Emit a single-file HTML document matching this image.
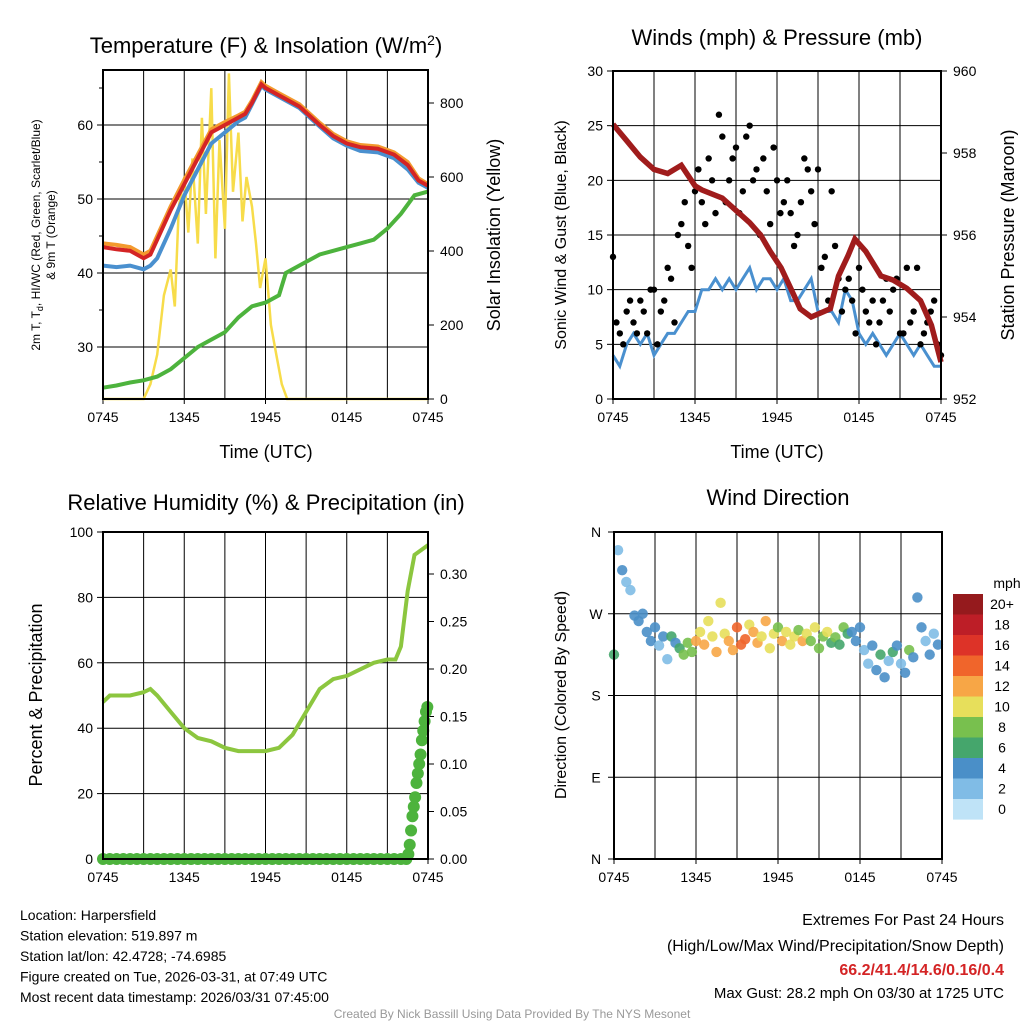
<!DOCTYPE html>
<html><head><meta charset="utf-8"><style>
body{margin:0;background:#fff;}
svg{display:block;font-family:"Liberation Sans",sans-serif;}
</style></head><body>
<svg id="c" width="1024" height="1024" viewBox="0 0 1024 1024"></svg>
<script>
// ---------- data ----------
const timeTicks=["0745","1345","1945","0145","0745"];
const tempH=[0,1,2,3,3.5,4,5,6,7,8,9,10,10.5,11,11.7,12,13,14.5,16,17,18,19,20.3,21.5,22.5,23.3,24];
const tempV=[43.5,43.2,43,42,42.5,44.5,48.5,52,55.5,59,60,61,61.5,63,65.5,65,64,62.5,60,58.5,57.5,57,56.8,56,54.6,52.5,51.8];
const wcV=[41,40.8,41,40.5,41,42,46,50.5,54,57.5,59,60.5,61,62.8,65.3,64.8,63.8,62.3,59.8,58.2,57.2,56.5,56.3,55.5,54,52.2,51.5];
const orgV=[44,43.8,43.5,42.5,43,45,49,52.6,56,59.4,60.4,61.3,61.8,63.3,65.8,65.3,64.3,62.8,60.3,58.8,57.8,57.3,57.1,56.3,55,52.8,52];
const dewH=[0,1,2,3,4,5,6,7,8,9,10,11,12,13,13.5,14,15,16,17,18,19,20,21,22,23,24];
const dewV=[24.5,24.8,25.2,25.5,26,27,28.5,30,31,32,34,35.5,36,37,40,40.5,41.5,42.5,43,43.5,44,44.5,46,48,50.5,51];
const solH=[0,3,3.5,4,4.5,5,5.3,5.6,6,6.3,6.6,7,7.3,7.6,8,8.3,8.6,9,9.3,9.6,10,10.3,10.6,11,11.3,11.6,12,12.4,12.8,13.2,13.6,24];
const solV=[0,0,40,120,280,350,250,520,600,450,650,420,760,500,840,380,700,460,880,560,720,480,600,520,420,300,380,200,120,40,0,0];
const windT=[4,3,5,6,5,6,4,5,6,6,7,8,8,10,10,11,10,11,10,11,12,10,11,11,10,11,9,9,10,11,8,8,8,7,10,9,6,5,6,5,4,5,6,5,4,5,4,3,3];
const gustA=[13,6,8,7,9,6,10,8,12,7,16,14,19,18,22,17,24,20,23,19,25,21,22,16,20,18,17,15,22,19,21,13,19,11,10,9,12,8,9,7,11,10,6,12,8,5,7,9,4];
const gustB=[7,5,9,6,8,10,5,9,11,15,18,12,21,16,20,26,18,22,17,24,20,15,19,23,17,20,14,18,21,16,12,9,14,8,11,6,10,7,5,9,8,11,6,7,12,6,8,5];
const presH=[0,1,2,3,4,5,6,6.5,8,9,10,10.8,11.5,12.3,13,13.7,14.5,15.9,16.5,17.2,17.7,18.5,19.6,20.5,21.5,22.5,23.3,24];
const presV=[958.7,958.3,957.9,957.6,957.5,957.7,957.2,957.1,956.9,956.6,956.3,956,955.6,955.2,954.7,954.2,954.0,954.2,955,955.5,955.9,955.6,955,954.9,954.7,954.4,953.8,952.9];
const rhH=[0,0.5,1,2,3,3.5,4,5,6,7,8,9,10,11,12,13,14,15,16,17,18,19,20,21,21.6,22,22.5,23,24];
const rhV=[48,50,50,50,51,52,50,45,40,37,36,34,33,33,33,34,38,45,52,55,56,58,60,61,61,65,82,93,96];
const precipH=[0,0.5,1,1.5,2,2.5,3,3.5,4,4.5,5,5.5,6,6.5,7,7.5,8,8.5,9,9.5,10,10.5,11,11.5,12,12.5,13,13.5,14,14.5,15,15.5,16,16.5,17,17.5,18,18.5,19,19.5,20,20.5,21,21.5,22,22.4,22.55,22.65,22.75,22.85,22.95,23.05,23.15,23.25,23.35,23.45,23.55,23.65,23.75,23.85,23.95];
const precipV=[0,0,0,0,0,0,0,0,0,0,0,0,0,0,0,0,0,0,0,0,0,0,0,0,0,0,0,0,0,0,0,0,0,0,0,0,0,0,0,0,0,0,0,0,0,0,0.005,0.015,0.03,0.045,0.055,0.065,0.08,0.09,0.1,0.11,0.125,0.135,0.145,0.155,0.16];
const dirV=[225,340,318,305,296,268,262,270,250,240,255,235,245,220,245,238,232,225,238,228,240,250,236,262,245,228,282,248,240,230,255,236,242,258,250,238,245,262,232,248,255,240,250,236,245,252,240,248,240,255,232,245,250,238,244,236,255,248,250,240,255,230,215,235,208,225,200,218,228,235,215,205,230,222,288,255,240,225,248,236];
const dirS=[6,2,3,2,2,3,4,4,3,4,3,2,4,2,6,4,6,7,7,8,12,10,12,10,9,11,10,10,12,12,14,13,14,10,12,11,10,12,9,10,8,11,10,9,10,8,11,9,8,10,7,8,10,6,7,6,7,5,4,3,4,2,2,4,3,6,3,2,6,4,2,3,7,4,4,3,2,3,2,4];
const cbLabels=["20+","18","16","14","12","10","8","6","4","2","0"];
const cbColors=["#951a1d","#bd1e27","#dd3328","#f0652b","#f7a646","#e7df5b","#78c04e","#45a66c","#4a8fc8","#80bce6","#bfe3f7"];

// ---------- helpers ----------
const S=document.getElementById('c');const NS='http://www.w3.org/2000/svg';
function el(t,a,p){const e=document.createElementNS(NS,t);for(const k in a)e.setAttribute(k,a[k]);(p||S).appendChild(e);return e;}
function txt(x,y,s,size,anchor,rot,fill){const t=el('text',{x:x,y:y,'font-size':size,'text-anchor':anchor||'middle',fill:fill||'#000'});if(rot)t.setAttribute('transform','rotate(-90 '+x+' '+y+')');t.textContent=s;return t;}
function lin(d0,d1,r0,r1){return v=>r0+(v-d0)*(r1-r0)/(d1-d0);}
function path(xs,ys,fx,fy){return xs.map((h,i)=>(i?'L':'M')+fx(h).toFixed(1)+','+fy(ys[i]).toFixed(1)).join('');}
function frame(x0,x1,y0,y1,hgrid,name){
  const g=el('g',{});
  for(let h=3;h<24;h+=3){const x=x0+(x1-x0)*h/24;el('line',{x1:x,x2:x,y1:y0,y2:y1,stroke:'#000','stroke-width':1},g);}
  hgrid.forEach(y=>el('line',{x1:x0,x2:x1,y1:y,y2:y,stroke:'#000','stroke-width':1},g));
  timeTicks.forEach((t,i)=>{const x=x0+(x1-x0)*i/4;el('line',{x1:x,x2:x,y1:y1,y2:y1+5,stroke:'#000'},g);const tt=txt(x,y1+23,t,14);});
  return g;
}
function border(x0,x1,y0,y1){el('rect',{x:x0,y:y0,width:x1-x0,height:y1-y0,fill:'none',stroke:'#000','stroke-width':2});}

// ---------- Panel 1 ----------
{const x0=103,x1=428,y0=70,y1=399;const fx=lin(0,24,x0,x1),fy=lin(30,60,347,125),fs=lin(0,800,399,103);
frame(x0,x1,y0,y1,[125,199,273,347],'temperature-panel');
[30,40,50,60].forEach(v=>{el('line',{x1:x0-6,x2:x0,y1:fy(v),y2:fy(v),stroke:'#000'});txt(x0-10,fy(v)+5,v,14,'end');});
[35,45,55,65].forEach(v=>el('line',{x1:x0-4,x2:x0,y1:fy(v),y2:fy(v),stroke:'#000'}));
[0,200,400,600,800].forEach(v=>{el('line',{x1:x1,x2:x1+6,y1:fs(v),y2:fs(v),stroke:'#000'});txt(x1+12,fs(v)+5,v,14,'start');});
let p;
p=el('path',{d:path(solH,solV,fx,fs),fill:'none',stroke:'#f7dc4a','stroke-width':2.5});
p=el('path',{d:path(dewH,dewV,fx,fy),fill:'none',stroke:'#4db33d','stroke-width':4});
p=el('path',{d:path(tempH,wcV,fx,fy),fill:'none',stroke:'#4a90cf','stroke-width':4});
p=el('path',{d:path(tempH,orgV,fx,fy),fill:'none',stroke:'#f39a2e','stroke-width':4});
p=el('path',{d:path(tempH,tempV,fx,fy),fill:'none',stroke:'#d42425','stroke-width':4});
border(x0,x1,y0,y1);
let t=el('text',{x:266,y:53,'font-size':22,'text-anchor':'middle'});t.innerHTML='Temperature (F) &amp; Insolation (W/m<tspan dy="-8" font-size="14">2</tspan><tspan dy="8">)</tspan>';
t=txt(266,458,'Time (UTC)',18);
t=el('text',{x:40,y:235,'font-size':12,'text-anchor':'middle',transform:'rotate(-90 40 235)'});t.innerHTML='2m T, T<tspan dy="3" font-size="9">d</tspan><tspan dy="-3">, HI/WC (Red, Green, Scarlet/Blue)</tspan>';
t=txt(55,235,'& 9m T (Orange)',12,'middle',true);
t=txt(500,235,'Solar Insolation (Yellow)',18,'middle',true);}

// ---------- Panel 2 ----------
{const x0=613,x1=941,y0=71,y1=399;const fx=lin(0,24,x0,x1),fy=lin(0,30,399,71),fp=lin(952,960,399,71);
frame(x0,x1,y0,y1,[5,10,15,20,25].map(fy),'wind-panel');
[0,5,10,15,20,25,30].forEach(v=>{el('line',{x1:x0-6,x2:x0,y1:fy(v),y2:fy(v),stroke:'#000'});txt(x0-10,fy(v)+5,v,14,'end');});
[952,954,956,958,960].forEach(v=>{el('line',{x1:x1,x2:x1+6,y1:fp(v),y2:fp(v),stroke:'#000'});txt(x1+12,fp(v)+5,v,14,'start');});
const wh=windT.map((v,i)=>i*0.5);
let p=el('path',{d:path(wh,windT,fx,fy),fill:'none',stroke:'#4a90cf','stroke-width':3});
gustA.forEach((v,i)=>{const c=el('circle',{cx:fx(i*0.5),cy:fy(v),r:3.2,fill:'#000'});});
gustB.forEach((v,i)=>{const c=el('circle',{cx:fx(i*0.5+0.25),cy:fy(v),r:3.2,fill:'#000'});});
p=el('path',{d:path(presH,presV,fx,fp),fill:'none',stroke:'#a01c1c','stroke-width':5.5});
border(x0,x1,y0,y1);
let t=txt(777,45,'Winds (mph) & Pressure (mb)',22);
t=txt(777,458,'Time (UTC)',18);
t=txt(566,235,'Sonic Wind & Gust (Blue, Black)',16,'middle',true);
t=txt(1014,235,'Station Pressure (Maroon)',18,'middle',true);}

// ---------- Panel 3 ----------
{const x0=103,x1=428,y0=532,y1=859;const fx=lin(0,24,x0,x1),fy=lin(0,100,859,532),fr=lin(0,0.3,859,574);
frame(x0,x1,y0,y1,[20,40,60,80].map(fy),'humidity-panel');
[0,20,40,60,80,100].forEach(v=>{el('line',{x1:x0-6,x2:x0,y1:fy(v),y2:fy(v),stroke:'#000'});txt(x0-10,fy(v)+5,v,14,'end');});
[0,0.05,0.1,0.15,0.2,0.25,0.3].forEach(v=>{el('line',{x1:x1,x2:x1+6,y1:fr(v),y2:fr(v),stroke:'#000'});txt(x1+12,fr(v)+5,v.toFixed(2),14,'start');});
let p=el('path',{d:path(rhH,rhV,fx,fy),fill:'none',stroke:'#8cc63f','stroke-width':4});
el('line',{x1:x0,x2:fx(22.5),y1:fr(0),y2:fr(0),stroke:'#4db33d','stroke-width':9});
precipH.forEach((h,i)=>{const c=el('circle',{cx:fx(h),cy:fr(precipV[i]),r:6,fill:'#4db33d'});});
border(x0,x1,y0,y1);
let t=txt(266,510,'Relative Humidity (%) & Precipitation (in)',22);
t=txt(42,695,'Percent & Precipitation',18,'middle',true);}

// ---------- Panel 4 ----------
{const x0=614,x1=942,y0=532,y1=859;const fx=lin(0,24,x0,x1),fy=lin(0,360,859,532);
frame(x0,x1,y0,y1,[90,180,270].map(fy),'wind-direction-panel');
["N","E","S","W","N"].forEach((s,i)=>{const v=i*90;el('line',{x1:x0-6,x2:x0,y1:fy(v),y2:fy(v),stroke:'#000'});txt(x0-18,fy(v)+5,s,14,'middle');});
function col(s){const b=s>=20?0:10-Math.floor((s+1)/2);return cbColors[Math.max(0,Math.min(10,b))];}
dirV.forEach((d,i)=>{const c=el('circle',{cx:fx(i*0.3),cy:fy(d),r:5.2,fill:col(dirS[i]),opacity:0.9});});
border(x0,x1,y0,y1);
let t=txt(778,505,'Wind Direction',22);
t=txt(566,695,'Direction (Colored By Speed)',16,'middle',true);
const cb=el('g',{});
txt(1007,588,'mph',14,'middle',false);
cbLabels.forEach((l,i)=>{el('rect',{x:953,y:594+i*20.5,width:30,height:20.6,fill:cbColors[i]},cb);const tt=txt(1002,609+i*20.5,l,14,'middle');});}

// ---------- footer ----------
{const L=["Location: Harpersfield","Station elevation: 519.897 m","Station lat/lon: 42.4728; -74.6985","Figure created on Tue, 2026-03-31, at 07:49 UTC","Most recent data timestamp: 2026/03/31 07:45:00"];
L.forEach((s,i)=>{const t=txt(20,920+i*20.5,s,14,'start');});
let t=txt(1004,925,'Extremes For Past 24 Hours',16,'end');
t=txt(1004,951,'(High/Low/Max Wind/Precipitation/Snow Depth)',16,'end');
t=txt(1004,975,'66.2/41.4/14.6/0.16/0.4',16,'end',false,'#d42425');t.setAttribute('font-weight','bold');
t=txt(1004,998,'Max Gust: 28.2 mph On 03/30 at 1725 UTC',15,'end');
t=txt(512,1018,'Created By Nick Bassill Using Data Provided By The NYS Mesonet',12,'middle',false,'#999');}
</script>
</body></html>
